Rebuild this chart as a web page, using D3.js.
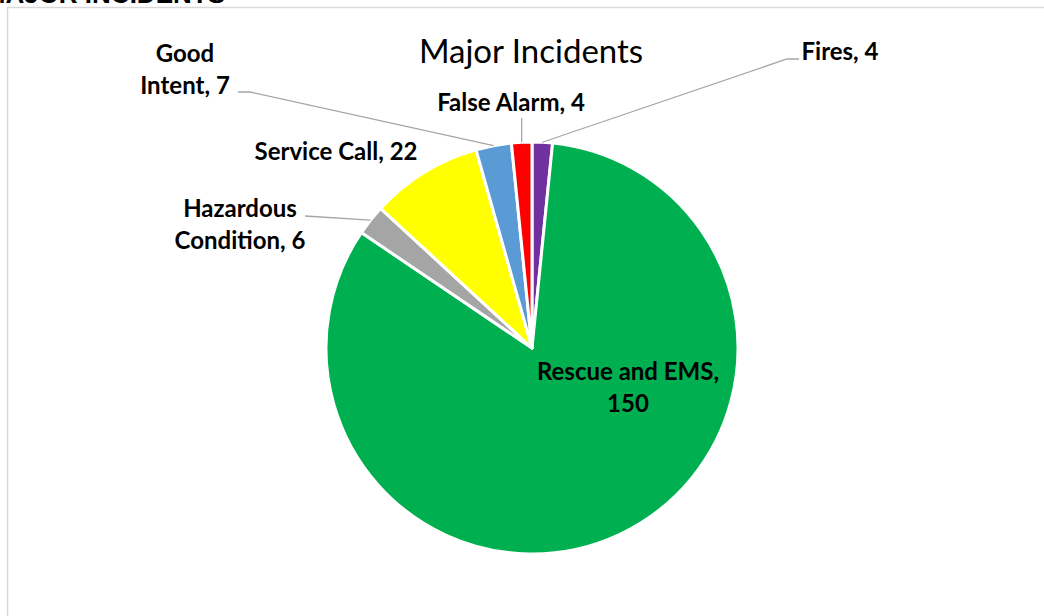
<!DOCTYPE html>
<html>
<head>
<meta charset="utf-8">
<script src="https://cdn.jsdelivr.net/npm/d3@7"></script>
<style>
  html, body { margin: 0; padding: 0; background: #fff; }
  svg { display: block; }
  .lbl { font-family: Lato, "Open Sans", sans-serif; font-weight: bold; font-size: 24px; fill: #000; }
</style>
</head>
<body>
<svg id="chart" width="1044" height="616"></svg>
<script>
// categories in drawing order (clockwise from 12 o'clock)
var categories = ['Fires', 'Rescue and EMS', 'Hazardous Condition', 'Service Call', 'Good Intent', 'False Alarm'];
// numbers printed in the data labels
var labelValues = [4, 150, 6, 22, 7, 4];
// wedge sizes as drawn in the source (the green wedge is drawn larger than its label)
var sliceValues = [4, 208, 6, 22, 7, 4];
var sliceColors = ['#7030A0', '#00B050', '#A5A5A5', '#FFFF00', '#5B9BD5', '#FF0000'];

// label placement: centre x, first baseline, words on line 1, leader points
var labelLayout = {
    'Fires':               {x: 840, y: 60, split: 0, leader: [[799, 59], [787, 59]]},
    'Rescue and EMS':      {x: 628, y: 380, split: 3, leader: null},
    'Hazardous Condition': {x: 240, y: 217, split: 1, leader: [[305, 216]]},
    'Service Call':        {x: 336, y: 160, split: 0, leader: null},
    'Good Intent':         {x: 185, y: 62, split: 1, leader: [[238, 92], [250, 92]]},
    'False Alarm':         {x: 511, y: 111, split: 0, leader: 'vertical'}
};

var svg = d3.select('#chart');
var cx = 532, cy = 348, radius = 206;

// chart area border (runs off the right and bottom)
svg.append('rect')
    .attr('x', 7.5).attr('y', 7.5)
    .attr('width', 1200).attr('height', 800)
    .attr('fill', 'none')
    .attr('stroke', '#D9D9D9')
    .attr('stroke-width', 1.5);

// heading of the page above, cut off by the crop
svg.append('text')
    .attr('x', 225).attr('y', 3)
    .attr('text-anchor', 'end')
    .style('font-family', '"Liberation Sans", Arial, sans-serif')
    .style('font-weight', 'bold')
    .style('font-size', '26px')
    .text('MAJOR INCIDENTS');

svg.append('text')
    .attr('x', 531).attr('y', 63)
    .attr('text-anchor', 'middle')
    .style('font-family', 'Lato, "Open Sans", sans-serif')
    .style('font-size', '33px')
    .style('fill', '#000')
    .text('Major Incidents');

var data = categories.map(function(c, i) {
    return {name: c, value: sliceValues[i], label: labelValues[i], color: sliceColors[i]};
});

var pie = d3.pie().sort(null).value(function(d) { return d.value; });
var arc = d3.arc().innerRadius(0).outerRadius(radius);
var arcs = pie(data);

var g = svg.append('g').attr('transform', 'translate(' + cx + ',' + cy + ')');

g.selectAll('path.slice')
    .data(arcs)
    .enter().append('path')
    .attr('class', 'slice')
    .attr('d', arc)
    .attr('fill', function(d) { return d.data.color; })
    .attr('stroke', '#fff')
    .attr('stroke-width', 3)
    .attr('stroke-linejoin', 'round');

// leader lines end on the outer edge at the middle of each wedge
function edgePoint(d) {
    var a = (d.startAngle + d.endAngle) / 2;
    return [cx + radius * Math.sin(a), cy - radius * Math.cos(a)];
}

arcs.forEach(function(d) {
    var lay = labelLayout[d.data.name];
    if (!lay.leader) return;
    var end = edgePoint(d);
    var pts;
    if (lay.leader === 'vertical') pts = [[end[0], 118], end];
    else pts = lay.leader.concat([end]);
    svg.append('path')
        .attr('d', d3.line()(pts))
        .attr('fill', 'none')
        .attr('stroke', '#A6A6A6')
        .attr('stroke-width', 1.3);
});

arcs.forEach(function(d) {
    var lay = labelLayout[d.data.name];
    var full = d.data.name + ', ' + d.data.label;
    var words = full.split(' ');
    var lines = lay.split ? [words.slice(0, lay.split).join(' '), words.slice(lay.split).join(' ')] : [full];
    var t = svg.append('text')
        .attr('class', 'lbl')
        .attr('text-anchor', 'middle');
    lines.forEach(function(line, i) {
        t.append('tspan')
            .attr('x', lay.x)
            .attr('y', lay.y + i * 31.5)
            .text(line);
    });
});
</script>
</body>
</html>
